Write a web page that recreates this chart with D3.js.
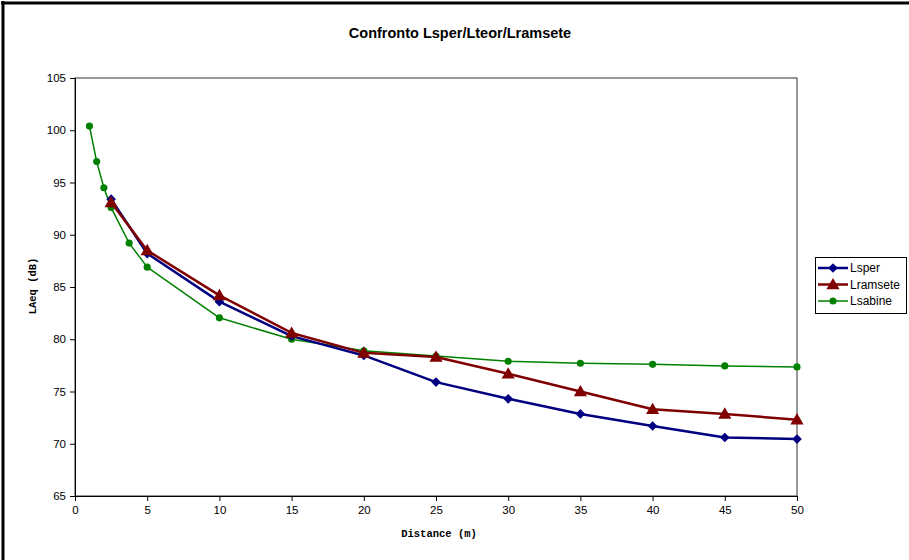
<!DOCTYPE html>
<html><head><meta charset="utf-8">
<script src="https://cdn.jsdelivr.net/npm/d3@7"></script>
<style>body{margin:0;background:#fff}svg{display:block}</style>
</head><body>
<svg id="c" width="909" height="560"></svg>
<script>
const title = "Confronto Lsper/Lteor/Lramsete";
const xLabel = "Distance (m)";
const yLabel = "LAeq (dB)";
const seriesNames = ["Lsper", "Lramsete", "Lsabine"];
const seriesColors = ["#000080", "#800000", "#008000"];
const xMain = [2.5, 5, 10, 15, 20, 25, 30, 35, 40, 45, 50];
const lsper = [93.4, 88.2, 83.6, 80.3, 78.45, 75.9, 74.3, 72.85, 71.7, 70.6, 70.45];
const lramsete = [93.1, 88.5, 84.2, 80.6, 78.7, 78.3, 76.7, 75.0, 73.3, 72.85, 72.3];
const xSabine = [1, 1.5, 2, 2.5, 3.75, 5, 10, 15, 20, 25, 30, 35, 40, 45, 50];
const lsabine = [100.4, 97.0, 94.5, 92.6, 89.2, 86.9, 82.05, 80.0, 78.9, 78.4, 77.9, 77.7, 77.6, 77.45, 77.35];
const xTicks = [0, 5, 10, 15, 20, 25, 30, 35, 40, 45, 50];
const yTicks = [65, 70, 75, 80, 85, 90, 95, 100, 105];

const svg = d3.select("#c");
// outer frame (left and top)
svg.append("line").attr("x1", 3).attr("x2", 3).attr("y1", 1).attr("y2", 560).attr("stroke", "#000").attr("stroke-width", 3);
svg.append("line").attr("x1", 1).attr("x2", 909).attr("y1", 3).attr("y2", 3).attr("stroke", "#000").attr("stroke-width", 3);

const L = 75, R = 797, T = 78, B = 496;
const x = d3.scaleLinear().domain([0, 50]).range([L, R]);
const y = d3.scaleLinear().domain([65, 105]).range([B, T]);

svg.append("text").attr("x", 460).attr("y", 38).attr("text-anchor", "middle")
  .attr("font-family", "Liberation Sans, Arial, sans-serif").attr("font-weight", "bold").attr("font-size", 14.5)
  .text(title);

// plot area box
svg.append("rect").attr("x", L).attr("y", T).attr("width", R - L).attr("height", B - T)
  .attr("fill", "none").attr("stroke", "#333").attr("stroke-width", 1);

const xAxis = svg.append("g").attr("transform", `translate(0,${B})`)
  .call(d3.axisBottom(x).tickValues(xTicks).tickSize(5).tickPadding(5).tickFormat(d3.format("d")));
const yAxis = svg.append("g").attr("transform", `translate(${L},0)`)
  .call(d3.axisLeft(y).tickValues(yTicks).tickSize(5).tickPadding(4).tickFormat(d3.format("d")));
[xAxis, yAxis].forEach(a => {
  a.select(".domain").attr("stroke", "#000");
  a.selectAll(".tick line").attr("stroke", "#000");
  a.selectAll("text").attr("font-family", "Liberation Sans, Arial, sans-serif").attr("font-size", 11.5).attr("fill", "#000");
});

svg.append("text").attr("x", 439).attr("y", 537).attr("text-anchor", "middle")
  .attr("font-family", "Liberation Mono, Courier New, monospace").attr("font-weight", "bold").attr("font-size", 10.5)
  .text(xLabel);
svg.append("text").attr("transform", "translate(36,286) rotate(-90)").attr("text-anchor", "middle")
  .attr("font-family", "Liberation Mono, Courier New, monospace").attr("font-weight", "bold").attr("font-size", 10.5)
  .text(yLabel);

const line = d3.line().x(d => x(d[0])).y(d => y(d[1]));
const data = [
  d3.zip(xMain, lsper),
  d3.zip(xMain, lramsete),
  d3.zip(xSabine, lsabine)
];
const widths = [2.5, 2.5, 1.5];
const symbols = [
  d3.symbol().type(d3.symbolDiamond2).size(60),
  d3.symbol().type(d3.symbolTriangle).size(75),
  d3.symbol().type(d3.symbolCircle).size(40)
];
[2, 0, 1].forEach(i => {
  svg.append("path").datum(data[i]).attr("d", line).attr("fill", "none")
    .attr("stroke", seriesColors[i]).attr("stroke-width", widths[i]).attr("stroke-linejoin", "round");
  svg.append("g").selectAll("path").data(data[i]).join("path")
    .attr("transform", d => `translate(${x(d[0])},${y(d[1]) + (i === 1 ? 1 : 0)})`)
    .attr("d", symbols[i]).attr("fill", seriesColors[i]);
});

// legend
const lg = svg.append("g");
lg.append("rect").attr("x", 815.5).attr("y", 257.5).attr("width", 91).attr("height", 56)
  .attr("fill", "#fff").attr("stroke", "#000").attr("stroke-width", 1);
seriesNames.forEach((n, i) => {
  const cy = 268 + i * 16.5;
  lg.append("line").attr("x1", 818).attr("x2", 848).attr("y1", cy).attr("y2", cy)
    .attr("stroke", seriesColors[i]).attr("stroke-width", widths[i]);
  lg.append("path").attr("transform", `translate(833,${cy + (i === 1 ? 1 : 0)})`).attr("d", symbols[i]).attr("fill", seriesColors[i]);
  lg.append("text").attr("x", 850).attr("y", cy + 4).attr("font-family", "Liberation Sans, Arial, sans-serif")
    .attr("font-size", 12).text(n);
});
</script>
</body></html>
